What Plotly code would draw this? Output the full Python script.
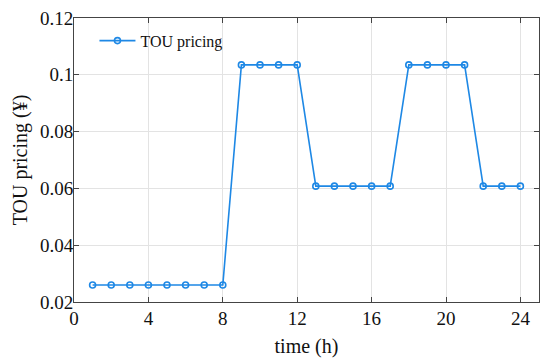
import plotly.graph_objects as go

hours = list(range(1, 25))
price = [0.026]*8 + [0.1035]*4 + [0.0608]*5 + [0.1035]*4 + [0.0608]*3
x_ticks = [0, 4, 8, 12, 16, 20, 24]
y_ticks = [0.02, 0.04, 0.06, 0.08, 0.1, 0.12]
y_tick_text = ["0.02", "0.04", "0.06", "0.08", "0.1", "0.12"]

color = "#1E88E5"
font = "Liberation Serif"

fig = go.Figure()
fig.add_trace(go.Scatter(
    x=hours, y=price, mode="lines+markers", name="TOU pricing",
    line=dict(color=color, width=1.6),
    marker=dict(symbol="circle-open", size=6, color=color, line=dict(width=1.6, color=color)),
))

axis_common = dict(
    showgrid=True, gridcolor="#e3e3e3", gridwidth=1,
    showline=True, linecolor="#444", linewidth=1, mirror="ticks",
    ticks="inside", ticklen=5, tickcolor="#444",
    zeroline=False, automargin=False, ticklabeloverflow="allow",
    tickfont=dict(family=font, size=19, color="#111"),
)

# page body has an 8px default margin; figure is sized to fill the rest
fig.update_layout(
    width=542, height=356,
    margin=dict(l=66, r=11, t=10, b=62, autoexpand=False),
    paper_bgcolor="white", plot_bgcolor="white",
    font=dict(family=font, color="#111"),
    xaxis=dict(range=[0, 25], tickvals=x_ticks, ticklabelstandoff=-1,
               title=dict(text="time (h)", font=dict(family=font, size=20), standoff=11),
               **axis_common),
    yaxis=dict(range=[0.02, 0.12001], tickvals=y_ticks, ticktext=y_tick_text,
               ticklabelstandoff=-4,
               title=dict(text="TOU pricing (¥)", font=dict(family=font, size=20), standoff=6),
               **axis_common),
    legend=dict(x=0.044, y=0.98, xanchor="left", yanchor="top", itemwidth=36,
                bgcolor="rgba(0,0,0,0)", font=dict(family=font, size=16, color="#111")),
    showlegend=True,
)

fig.write_html("out.html")
